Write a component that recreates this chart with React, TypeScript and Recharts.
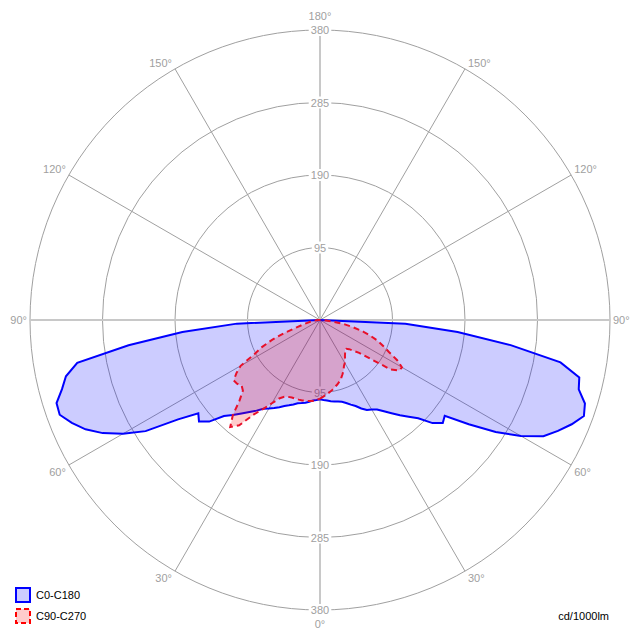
import React from "react";
import { RadarChart, Radar, PolarGrid, PolarAngleAxis, PolarRadiusAxis, Legend } from "recharts";

// gamma angles (deg from nadir), 0..90 then the upper hemisphere
const GAMMA = [
  0, 2.5, 5, 7.5, 10, 12.5, 15, 17.5, 20, 22.5, 25, 27.5, 30, 32.5, 35, 37.5, 40, 42.5, 45, 47.5,
  50, 52.5, 55, 57.5, 60, 62.5, 65, 67.5, 70, 72.5, 75, 77.5, 80, 82.5, 85, 87.5, 90, 180,
];

// cd/1000lm, right half of C0-C180
const C0 = [
  104, 105, 106, 107.5, 108.5, 109.5, 111, 114, 118, 122, 128, 133, 135.5, 139, 146, 154, 163, 172, 182, 200,
  210, 206, 238, 273, 304, 330, 344, 357, 368, 364, 351, 348, 320, 252, 181, 112, 0, 0,
];
// left half of C0-C180
const C180 = [
  104, 105, 106, 108, 110, 111.5, 113, 116, 119, 122, 126, 130, 134, 138, 145, 152, 160, 169, 178, 197,
  207, 201, 227, 271, 298, 321, 339, 352, 363, 362, 350, 341, 323, 253, 181, 109, 0, 0,
];
// right half of C90-C270
const C90 = [
  103, 100.5, 98, 95.5, 93, 90, 87.5, 84.5, 81, 77, 73, 68, 65, 61, 57, 54, 51, 51, 54, 60,
  67, 84, 113, 123, 124, 114, 100, 90, 81, 70, 58.5, 45, 33, 18.5, 10, 4, 0, 0,
];
// left half of C90-C270
const C270 = [
  103, 105, 106.5, 107, 107.5, 108, 108, 108, 108, 109, 111, 116, 126, 138, 151, 174, 183, 169, 149, 137,
  134, 137, 138, 130, 120, 97, 84, 68, 50, 32, 23, 17, 13, 9, 5, 2, 0, 0,
];

const RADIUS_TICKS = [0, 95, 190, 285, 380];
const ANGLE_TICKS = [0, 30, 60, 90, 120, 150, 180, 210, 240, 270, 300, 330];

const CX = 320;
const CY = 320;
const R = 290;
const FONT = "'Liberation Sans', Arial, sans-serif";

// angle axis runs 0..360 counter-clockwise from the bottom: right half = gamma, left half = 360 - gamma
const data = [
  ...GAMMA.map((g, i) => ({ a: g, c0c180: C0[i], c90c270: C90[i] })),
  ...GAMMA.slice(1, GAMMA.length - 1)
    .map((g, i) => ({ a: 360 - g, c0c180: C180[i + 1], c90c270: C270[i + 1] }))
    .reverse(),
];

const AngleTick = ({ payload }: any) => {
  const v = payload.value;
  const gamma = v <= 180 ? v : 360 - v;
  const deg = typeof payload.coordinate === "number" ? payload.coordinate : v - 90;
  const th = (deg * Math.PI) / 180;
  const c = Math.cos(th);
  const s = Math.sin(th);
  const px = CX + R * c;
  const py = CY - R * s;
  let x = px;
  let y = py;
  let anchor: any = "middle";
  if (Math.abs(c) < 0.01) {
    y = s > 0 ? py - 10 : py + 18;
  } else if (Math.abs(s) < 0.01) {
    x = c > 0 ? px + 3 : px - 3;
    y = py + 4;
    anchor = c > 0 ? "start" : "end";
  } else {
    x = c > 0 ? px + 3 : px - 3;
    y = s > 0 ? py - 2 : py + 11;
    anchor = c > 0 ? "start" : "end";
  }
  return (
    <text x={x} y={y} textAnchor={anchor} fill="#a0a0a0" fontSize={11} fontFamily={FONT}>
      {gamma}°
    </text>
  );
};

const RadiusTick = ({ x, y, payload }: any) => {
  if (!payload || !payload.value) return null;
  const label = String(payload.value);
  const w = label.length * 6.2 + 4;
  return (
    <g>
      {[y, 2 * CY - y].map((yy, i) => (
        <g key={i}>
          <rect x={x - w / 2} y={yy - 6} width={w} height={12} fill="#fff" />
          <text x={x} y={yy + 4} textAnchor="middle" fill="#a0a0a0" fontSize={11} fontFamily={FONT}>
            {label}
          </text>
        </g>
      ))}
    </g>
  );
};

const renderLegend = (props: any) => {
  const items = props.payload || [];
  return (
    <div style={{ fontFamily: FONT, fontSize: 11, color: "#000" }}>
      {items.map((item: any, i: number) => (
        <div key={i} style={{ display: "flex", alignItems: "center", height: 16, marginBottom: 5 }}>
          <svg width={16} height={16}>
            {i === 0 ? (
              <rect x={1} y={1} width={14} height={14} fill="#ccccff" stroke="#0000ff" strokeWidth={2} />
            ) : (
              <rect x={1} y={1} width={14} height={14} fill="#ffcccc" stroke="#ff0000" strokeWidth={2} strokeDasharray="5 3" />
            )}
          </svg>
          <span style={{ marginLeft: 5 }}>{item.value}</span>
        </div>
      ))}
    </div>
  );
};

export default function App() {
  return (
    <div style={{ position: "absolute", left: 0, top: 0, width: 640, height: 640, background: "#fff" }}>
      <RadarChart
        width={640}
        height={640}
        data={data}
        cx={CX}
        cy={CY}
        outerRadius={R}
        startAngle={-90}
        endAngle={270}
        margin={{ top: 0, right: 0, bottom: 0, left: 0 }}
      >
        <PolarGrid
          gridType="circle"
          stroke="#a0a0a0"
          polarAngles={[-60, -30, 30, 60, 120, 150, 210, 240]}
        />
        <PolarGrid gridType="circle" stroke="#c8c8c8" strokeWidth={2} polarAngles={[-90, 0, 90, 180]} polarRadius={[]} />
        <PolarAngleAxis
          type="number"
          dataKey="a"
          domain={[0, 360]}
          ticks={ANGLE_TICKS}
          tick={<AngleTick />}
          axisLine={false}
          tickLine={false}
        />
        <PolarRadiusAxis
          angle={90}
          type="number"
          domain={[0, 380]}
          allowDataOverflow
          ticks={RADIUS_TICKS}
          tick={<RadiusTick />}
          axisLine={false}
          tickLine={false}
          zIndex={-50}
        />
        <Radar
          name="C0-C180"
          dataKey="c0c180"
          stroke="#0000ff"
          strokeWidth={2}
          fill="#0000ff"
          fillOpacity={0.2}
          isAnimationActive={false}
        />
        <Radar
          name="C90-C270"
          dataKey="c90c270"
          stroke="#e8102a"
          strokeWidth={2}
          strokeDasharray="6 4"
          fill="#ff0000"
          fillOpacity={0.2}
          isAnimationActive={false}
        />
        <Legend content={renderLegend} wrapperStyle={{ left: 15, top: 587, bottom: "auto", width: 140 }} />
      </RadarChart>
      <div style={{ position: "absolute", right: 31, top: 610, fontFamily: FONT, fontSize: 11, color: "#000" }}>
        cd/1000lm
      </div>
    </div>
  );
}
